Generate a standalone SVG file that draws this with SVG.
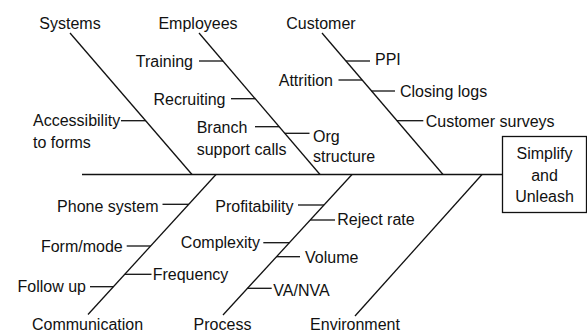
<svg xmlns="http://www.w3.org/2000/svg" width="587" height="334" viewBox="0 0 587 334">
  <style>
    text { font-family: "Liberation Sans", Arial, sans-serif; font-size: 16px; fill: #111; }
    .mid { text-anchor: middle; }
    .end { text-anchor: end; }
    .ln { stroke: #111; stroke-width: 1.3; fill: none; }
  </style>
  <rect width="587" height="334" fill="#fff"/>

  <!-- spine, bones and ticks -->
  <g id="connectors" class="ln">
    <line x1="82" y1="174.5" x2="502.5" y2="174.5"/>
    <!-- upper bones -->
    <line x1="70" y1="33" x2="192" y2="174.5"/>
    <line x1="199" y1="33" x2="320" y2="174.5"/>
    <line x1="322" y1="33" x2="443" y2="174.5"/>
    <!-- lower bones -->
    <line x1="216" y1="174.5" x2="88" y2="314.5"/>
    <line x1="352" y1="174.5" x2="223" y2="315"/>
    <line x1="482" y1="174.5" x2="355" y2="316"/>
    <!-- Systems ticks -->
    <line x1="121" y1="120.7" x2="145.6" y2="120.7"/>
    <!-- Employees ticks -->
    <line x1="199" y1="61" x2="223" y2="61"/>
    <line x1="231" y1="98.7" x2="255.2" y2="98.7"/>
    <line x1="255" y1="126.7" x2="279.1" y2="126.7"/>
    <line x1="284.8" y1="133.3" x2="309.5" y2="133.3"/>
    <!-- Customer ticks -->
    <line x1="346" y1="61" x2="370" y2="61"/>
    <line x1="338.5" y1="80" x2="362" y2="80"/>
    <line x1="371.6" y1="91" x2="395" y2="91"/>
    <line x1="397" y1="120.7" x2="423.3" y2="120.7"/>
    <!-- Communication ticks -->
    <line x1="162.5" y1="204.3" x2="188.8" y2="204.3"/>
    <line x1="126.7" y1="246" x2="150.6" y2="246"/>
    <line x1="124.8" y1="274.3" x2="151.5" y2="274.3"/>
    <line x1="90" y1="286.7" x2="113.4" y2="286.7"/>
    <!-- Process ticks -->
    <line x1="298" y1="205" x2="324" y2="205"/>
    <line x1="263.3" y1="242.7" x2="289.4" y2="242.7"/>
    <line x1="310.2" y1="220" x2="335" y2="220"/>
    <line x1="276.5" y1="256.7" x2="300" y2="256.7"/>
    <line x1="247.5" y1="288.3" x2="271.7" y2="288.3"/>
  </g>

  <!-- effect -->
  <g id="effect">
    <rect x="502.5" y="136.5" width="84" height="76" class="ln" fill="#fff"/>
    <text class="mid" x="544.5" y="159">Simplify</text>
    <text class="mid" x="544.5" y="180.5">and</text>
    <text class="mid" x="544.5" y="201.5">Unleash</text>
  </g>

  <!-- categories -->
  <g id="systems"><text class="mid" x="70" y="29">Systems</text></g>
  <g id="employees"><text class="mid" x="198" y="29">Employees</text></g>
  <g id="customer"><text class="mid" x="321" y="29">Customer</text></g>
  <g id="communication"><text class="mid" x="87.5" y="330">Communication</text></g>
  <g id="process"><text class="mid" x="222.5" y="330">Process</text></g>
  <g id="environment"><text class="mid" x="355" y="330">Environment</text></g>

  <!-- causes: Systems -->
  <g id="accessibility">
    <text x="33" y="126">Accessibility</text>
    <text x="33" y="148.3">to forms</text>
  </g>

  <!-- causes: Employees -->
  <g id="training"><text class="end" x="193" y="66.7">Training</text></g>
  <g id="recruiting"><text class="end" x="225.5" y="104.7">Recruiting</text></g>
  <g id="branch-calls">
    <text x="196.7" y="133.3">Branch</text>
    <text x="196.7" y="155">support calls</text>
  </g>
  <g id="org-structure">
    <text x="313" y="141.5">Org</text>
    <text x="313" y="161.7">structure</text>
  </g>

  <!-- causes: Customer -->
  <g id="ppi"><text x="375" y="65.3">PPI</text></g>
  <g id="attrition"><text class="end" x="333" y="86">Attrition</text></g>
  <g id="closing-logs"><text x="400" y="97">Closing logs</text></g>
  <g id="customer-surveys"><text x="425.7" y="126.7">Customer surveys</text></g>

  <!-- causes: Communication -->
  <g id="phone-system"><text class="end" x="158.5" y="211.7">Phone system</text></g>
  <g id="form-mode"><text class="end" x="122.7" y="251.7">Form/mode</text></g>
  <g id="frequency"><text x="152.7" y="280">Frequency</text></g>
  <g id="follow-up"><text class="end" x="86" y="291.7">Follow up</text></g>

  <!-- causes: Process -->
  <g id="profitability"><text class="end" x="293.5" y="211.7">Profitability</text></g>
  <g id="complexity"><text class="end" x="260" y="248.3">Complexity</text></g>
  <g id="reject-rate"><text x="337.3" y="225">Reject rate</text></g>
  <g id="volume"><text x="305" y="262.7">Volume</text></g>
  <g id="va-nva"><text x="273.3" y="295.5">VA/NVA</text></g>
</svg>
